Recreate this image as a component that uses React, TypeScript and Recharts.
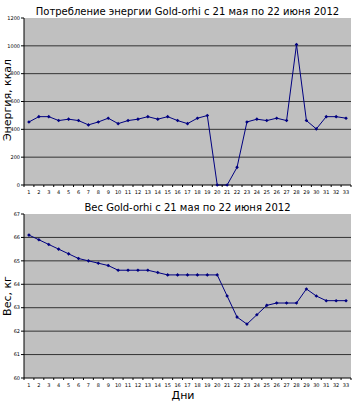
import { LineChart, Line, XAxis, YAxis, CartesianGrid } from 'recharts';

// дни наблюдения
const days = [
  1, 2, 3, 4, 5, 6, 7, 8, 9, 10, 11, 12, 13, 14, 15, 16, 17,
  18, 19, 20, 21, 22, 23, 24, 25, 26, 27, 28, 29, 30, 31, 32, 33,
];

// ккал в день
const energy = [
  453, 491, 491, 463, 473, 463, 432, 453, 480, 441, 463, 473, 491, 473, 491, 463, 441,
  480, 499, 0, 0, 127, 453, 473, 463, 480, 463, 1009, 463, 403, 491, 491, 480,
];

// вес, кг
const weight = [
  66.1, 65.9, 65.7, 65.5, 65.3, 65.1, 65.0, 64.9, 64.8, 64.6, 64.6, 64.6, 64.6, 64.5, 64.4, 64.4, 64.4,
  64.4, 64.4, 64.4, 63.5, 62.6, 62.3, 62.7, 63.1, 63.2, 63.2, 63.2, 63.8, 63.5, 63.3, 63.3, 63.3,
];

const energyTicks = [0, 200, 400, 600, 800, 1000, 1200];
const weightTicks = [60, 61, 62, 63, 64, 65, 66, 67];

const energyData = days.map((d, i) => ({ day: d, value: energy[i] }));
const weightData = days.map((d, i) => ({ day: d, value: weight[i] }));

const W = 356;
const MARGIN_L = 2;
const Y_W = 22;
const MARGIN_R = 5;
const BAND = (W - MARGIN_L - Y_W - MARGIN_R) / days.length;

const FONT = '"DejaVu Sans", Verdana, sans-serif';
const NAVY = '#000080';

function DayTick(props: any) {
  const { x, y, payload, index } = props;
  const last = index === days.length - 1;
  return (
    <g>
      <line x1={x - BAND / 2} x2={x - BAND / 2} y1={y - 4} y2={y - 2} stroke="#000" />
      {last && <line x1={x + BAND / 2} x2={x + BAND / 2} y1={y - 4} y2={y - 2} stroke="#000" />}
      <text x={x} y={y + 5} textAnchor="middle" fontSize={5} fill="#000" fontFamily={FONT}>
        {payload.value}
      </text>
    </g>
  );
}

function Dot(props: any) {
  const { cx, cy } = props;
  if (cx == null || cy == null) return null;
  return <path d={`M${cx},${cy - 1.8}L${cx + 1.8},${cy}L${cx},${cy + 1.8}L${cx - 1.8},${cy}Z`} fill={NAVY} />;
}

function Panel({
  data, ticks, domain, height, top, bottom,
}: {
  data: { day: number; value: number }[];
  ticks: number[];
  domain: [number, number];
  height: number;
  top: number;
  bottom: number;
}) {
  const grid = ticks.slice(1, -1);
  const pad = { left: BAND / 2, right: BAND / 2 };
  return (
    <LineChart width={W} height={height} data={data} margin={{ top, right: MARGIN_R, bottom, left: MARGIN_L }}>
      <CartesianGrid fill="#c0c0c0" vertical={false} horizontalValues={grid} stroke="#333" strokeWidth={1} />
      <XAxis
        dataKey="day"
        type="category"
        height={12}
        interval={0}
        padding={pad}
        tickSize={2}
        tickMargin={2}
        tickLine={false}
        axisLine={{ stroke: '#000' }}
        tick={<DayTick />}
      />
      <XAxis xAxisId="top" dataKey="day" orientation="top" height={0} padding={pad} tick={false} tickLine={false} axisLine={{ stroke: '#808080' }} />
      <YAxis
        domain={domain}
        ticks={ticks}
        interval={0}
        width={Y_W}
        tickSize={3}
        tickMargin={1}
        tickLine={{ stroke: '#000' }}
        axisLine={{ stroke: '#000' }}
        tick={{ fontSize: 5, fill: '#000', fontFamily: FONT }}
      />
      <YAxis yAxisId="right" orientation="right" domain={domain} width={0} tick={false} tickLine={false} axisLine={{ stroke: '#808080' }} />
      <Line
        type="linear"
        dataKey="value"
        stroke={NAVY}
        strokeWidth={1}
        dot={<Dot />}
        activeDot={false}
        isAnimationActive={false}
      />
    </LineChart>
  );
}

const titleStyle: React.CSSProperties = {
  position: 'absolute',
  left: 24,
  width: 327,
  textAlign: 'center',
  fontFamily: FONT,
  fontSize: 10,
  color: '#000',
  whiteSpace: 'nowrap',
  lineHeight: '12px',
};

const axisTitle: React.CSSProperties = {
  position: 'absolute',
  fontFamily: FONT,
  fontSize: 11,
  color: '#000',
  whiteSpace: 'nowrap',
  lineHeight: '12px',
  transform: 'translate(-50%, -50%) rotate(-90deg)',
};

export default function App() {
  return (
    <div style={{ position: 'absolute', left: 0, top: 0, width: W, height: 402, background: '#fff' }}>
      <div style={{ ...titleStyle, top: 6 }}>Потребление энергии Gold-orhi с 21 мая по 22 июня 2012</div>
      <div style={{ ...axisTitle, left: 8, top: 100 }}>Энергия, ккал</div>
      <div style={{ position: 'absolute', left: 0, top: 0 }}>
        <Panel data={energyData} ticks={energyTicks} domain={[0, 1200]} height={200} top={18} bottom={3} />
      </div>

      <div style={{ ...titleStyle, top: 202 }}>Вес Gold-orhi с 21 мая по 22 июня 2012</div>
      <div style={{ ...axisTitle, left: 8, top: 296 }}>Вес, кг</div>
      <div style={{ position: 'absolute', left: 0, top: 200 }}>
        <Panel data={weightData} ticks={weightTicks} domain={[60, 67]} height={202} top={14} bottom={12} />
      </div>
      <div style={{ position: 'absolute', left: 183, top: 395, transform: 'translate(-50%, -50%)', fontFamily: FONT, fontSize: 11, whiteSpace: 'nowrap' }}>
        Дни
      </div>
    </div>
  );
}
